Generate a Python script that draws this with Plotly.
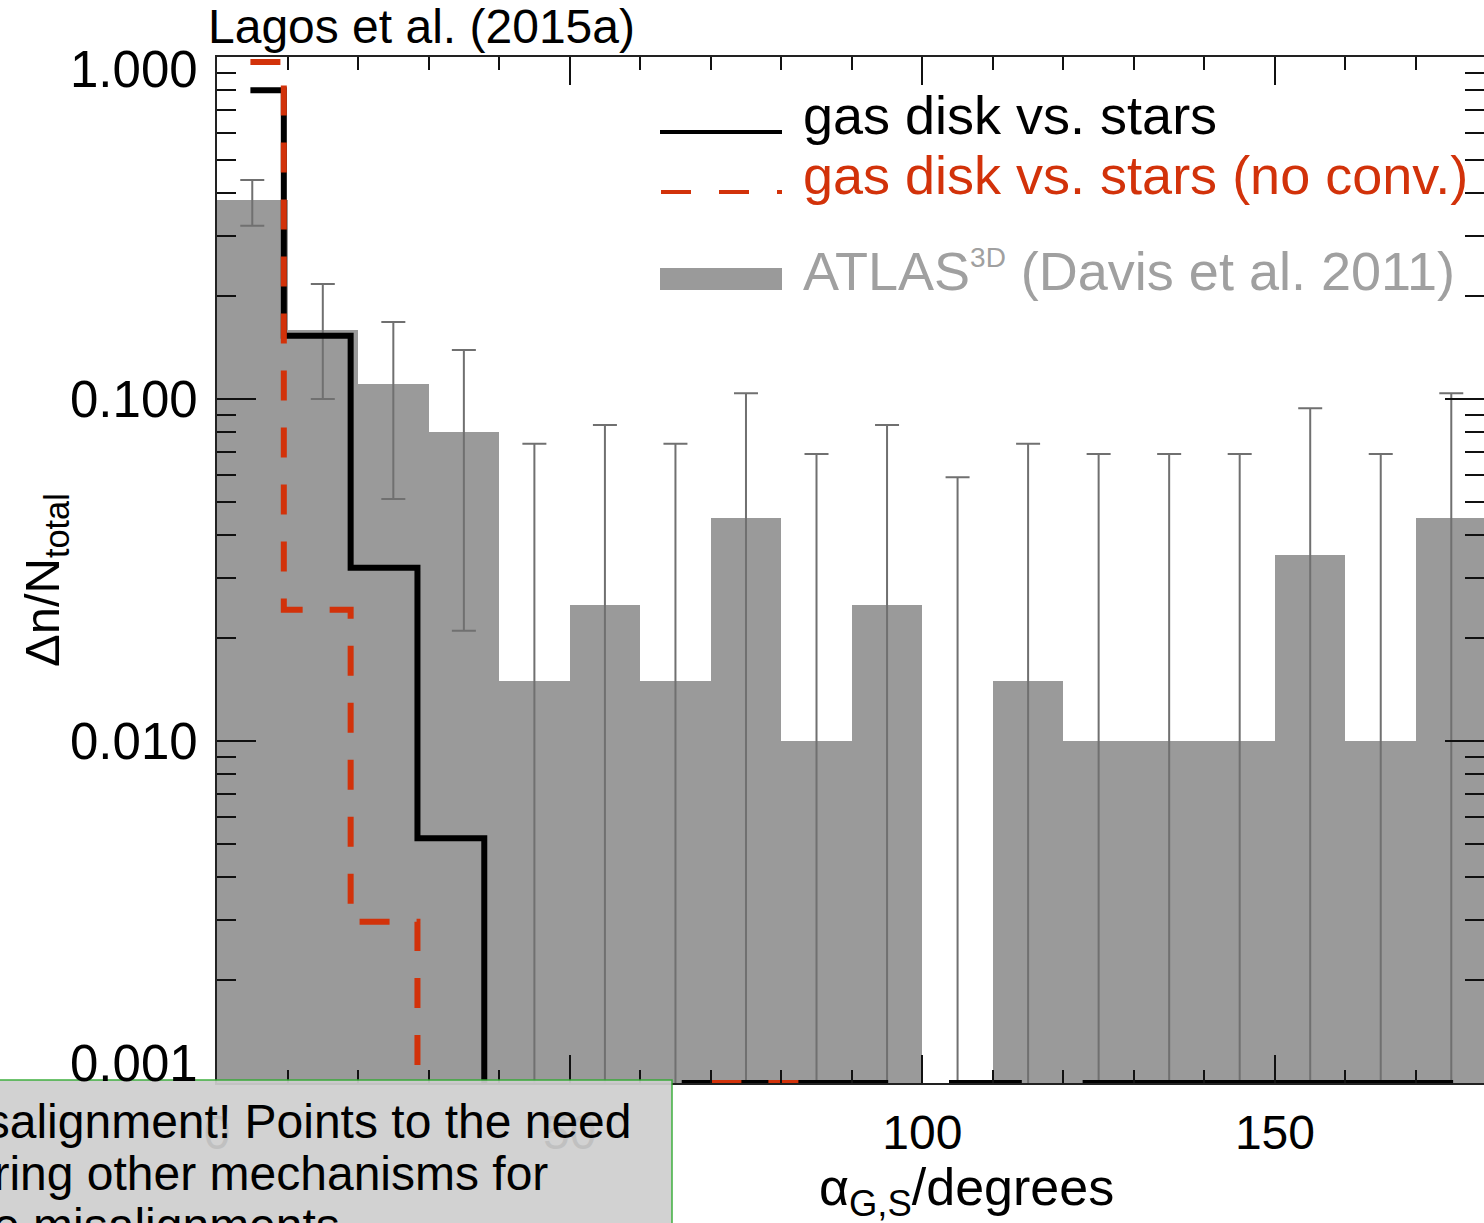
import numpy as np
import plotly.graph_objects as go

# ---------------- data ----------------
# ATLAS3D (Davis et al. 2011) histogram, 10-degree bins
atlas_bin_centres = [5, 15, 25, 35, 45, 55, 65, 75, 85, 95,
                     105, 115, 125, 135, 145, 155, 165, 175]
atlas_frac = [0.382, 0.159, 0.111, 0.080, 0.015, 0.025, 0.015, 0.045, 0.010,
              0.025, 0.0, 0.015, 0.010, 0.010, 0.010, 0.035, 0.010, 0.045]
atlas_err_hi = [0.437, 0.217, 0.168, 0.139, 0.074, 0.084, 0.074, 0.104, 0.069,
                0.084, 0.059, 0.074, 0.069, 0.069, 0.069, 0.094, 0.069, 0.104]
atlas_err_lo = [0.321, 0.100, 0.051, 0.021, 0.0, 0.0, 0.0, 0.0, 0.0,
                0.0, 0.0, 0.0, 0.0, 0.0, 0.0, 0.0, 0.0, 0.0]

# model histograms (19 bins over 0-180 degrees)
model_nbins = 19
model_bin_width = 180.0 / model_nbins
model_centres = (np.arange(model_nbins) + 0.5) * model_bin_width
gas_vs_stars = [0.80, 0.153, 0.0321, 0.0052, 0, 0, 0, 0.001, 0.001, 0.001,
                0, 0.001, 0, 0.001, 0.001, 0.001, 0.001, 0.001, 0.001]
gas_vs_stars_noconv = [0.967, 0.0242, 0.00296, 0, 0, 0, 0, 0.001, 0.001, 0,
                       0, 0, 0, 0, 0, 0, 0, 0, 0]

x_ticks = [0, 50, 100, 150]
y_ticks = [1.0, 0.1, 0.01, 0.001]
y_tick_labels = ["1.000", "0.100", "0.010", "0.001"]

legend_labels = ["gas disk vs. stars",
                 "gas disk vs. stars (no conv.)",
                 "ATLAS<sup><span style='font-size:28px'>3D</span></sup> (Davis et al. 2011)"]

box_lines = ["Large misalignment! Points to the need",
             "considering other mechanisms for",
             "the misalignments"]

# ---------------- layout geometry / style ----------------
W, H = 1484, 1223
L, R, T, B = 217, 0, 57, 140
PW, PH = W - L - R, H - T - B
PX_PER_DEG = 7.053
X_MAX = PW / PX_PER_DEG
FLOOR = 1e-5  # zero values are drawn below the plotted range

FONT = "Liberation Sans, Arial, Helvetica, sans-serif"
BAR_GREY = "#9a9a9a"
ERR_GREY = "#707070"
RED = "#d2320a"


def px_x(p):
    return (p - L) / PW


def px_y(p):
    return (T + PH - p) / PH


fig = go.Figure()

fig.add_trace(go.Bar(
    x=atlas_bin_centres, y=atlas_frac, width=10,
    marker=dict(color=BAR_GREY, line=dict(width=0)),
    showlegend=False, hoverinfo="skip"))

fig.add_trace(go.Scatter(
    x=atlas_bin_centres, y=atlas_err_hi, mode="markers",
    marker=dict(size=1, opacity=0),
    error_y=dict(type="data", symmetric=False,
                 array=[0.0] * len(atlas_err_hi),
                 arrayminus=[h - l for h, l in zip(atlas_err_hi, atlas_err_lo)],
                 color=ERR_GREY, thickness=2, width=12),
    showlegend=False, hoverinfo="skip"))

fig.add_trace(go.Scatter(
    x=model_centres, y=[v if v > 0 else FLOOR for v in gas_vs_stars],
    mode="lines", line=dict(shape="hvh", color="black", width=6),
    showlegend=False, hoverinfo="skip"))

# the red curve sits on an overlaid axis that carries the right-hand ticks
fig.add_trace(go.Scatter(
    x=model_centres, y=[v if v > 0 else FLOOR for v in gas_vs_stars_noconv],
    mode="lines", line=dict(shape="hvh", color=RED, width=6, dash="30px,27px"),
    yaxis="y2", showlegend=False, hoverinfo="skip"))

y_minor = [m * 10.0 ** e for e in (-3, -2, -1) for m in range(2, 10)]

yaxis_common = dict(type="log", range=[-3, 0], showgrid=False, zeroline=False,
                    ticks="inside", tickvals=y_ticks, ticklen=39, tickwidth=2,
                    tickcolor="#111", showticklabels=False,
                    minor=dict(tickvals=y_minor, ticks="inside", ticklen=19,
                               tickwidth=2, tickcolor="#111"))

fig.update_layout(
    width=W, height=H,
    margin=dict(l=L, r=R, t=T, b=B, pad=0),
    paper_bgcolor="white", plot_bgcolor="white",
    bargap=0, showlegend=False,
    font=dict(family=FONT, color="black"),
    xaxis=dict(range=[0, X_MAX], showgrid=False, zeroline=False,
               showline=True, linecolor="#222", linewidth=2, mirror="ticks",
               ticks="inside", tickvals=x_ticks, ticklen=28, tickwidth=2,
               tickcolor="#111", tickfont=dict(size=48, family=FONT),
               ticklabelstandoff=6,
               minor=dict(dtick=10, tick0=0, ticks="inside", ticklen=13,
                          tickwidth=2, tickcolor="#111")),
    yaxis=dict(showline=True, linecolor="#222", linewidth=2, mirror=False,
               **yaxis_common),
    yaxis2=dict(overlaying="y", side="right", showline=False, **yaxis_common),
)

ann = []
# y tick labels (end labels nudged inwards as in the original)
y_label_shift = [-12, 0, 0, 20]
for v, t, s in zip(y_ticks, y_tick_labels, y_label_shift):
    ann.append(dict(x=px_x(200), xref="paper", y=np.log10(v), yref="y",
                    text=t, showarrow=False, xanchor="right", yanchor="middle",
                    yshift=s, font=dict(size=51, family=FONT, color="black")))

# title
ann.append(dict(x=px_x(206), xref="paper", y=px_y(26), yref="paper",
                text="Lagos et al. (2015a)", showarrow=False,
                xanchor="left", yanchor="middle",
                font=dict(size=48, family=FONT, color="black")))

# axis titles
ann.append(dict(x=px_x(966), xref="paper", y=px_y(1191), yref="paper",
                text="α<sub>G,S</sub>/degrees", showarrow=False,
                xanchor="center", yanchor="middle",
                font=dict(size=52, family=FONT, color="black")))
ann.append(dict(x=px_x(45), xref="paper", y=px_y(580), yref="paper",
                text="Δn/N<sub>total</sub>", showarrow=False, textangle=-90,
                xanchor="center", yanchor="middle",
                font=dict(size=49, family=FONT, color="black")))

# legend (drawn by hand like the original)
legend_colors = ["black", RED, "#a0a0a0"]
legend_text_y = [115, 175, 271]
for lab, col, yy in zip(legend_labels, legend_colors, legend_text_y):
    ann.append(dict(x=px_x(801), xref="paper", y=px_y(yy), yref="paper",
                    text=lab, showarrow=False, xanchor="left", yanchor="middle",
                    font=dict(size=54, family=FONT, color=col)))

# overlaid slide text box (partly off the page)
box_right = [634, 550, 342]
box_y = [1121, 1173, 1225]
for txt, xr, yy in zip(box_lines, box_right, box_y):
    ann.append(dict(x=px_x(xr), xref="paper", y=px_y(yy), yref="paper",
                    text=txt, showarrow=False, xanchor="right", yanchor="middle",
                    font=dict(size=48, family=FONT, color="black")))

fig.update_layout(annotations=ann)

shapes = [
    dict(type="line", xref="paper", yref="paper",
         x0=px_x(660), x1=px_x(782), y0=px_y(132), y1=px_y(132),
         line=dict(color="black", width=4)),
    dict(type="line", xref="paper", yref="paper",
         x0=px_x(661), x1=px_x(782), y0=px_y(192), y1=px_y(192),
         line=dict(color=RED, width=4, dash="30px,28px")),
    dict(type="rect", xref="paper", yref="paper",
         x0=px_x(660), x1=px_x(782), y0=px_y(290), y1=px_y(268),
         fillcolor=BAR_GREY, line=dict(width=0)),
    dict(type="rect", xref="paper", yref="paper", layer="above",
         x0=px_x(-20), x1=px_x(672), y0=px_y(1260), y1=px_y(1080),
         fillcolor="rgb(207,207,207)", opacity=0.93,
         line=dict(color="#33aa33", width=1.5)),
]
fig.update_layout(shapes=shapes)

fig.write_html("out.html")
